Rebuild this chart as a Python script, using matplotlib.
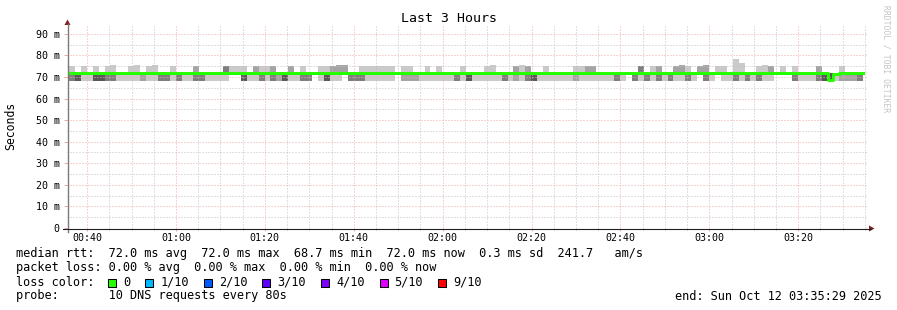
import matplotlib
matplotlib.use("Agg")
import matplotlib.pyplot as plt
import numpy as np
from matplotlib.lines import Line2D
from matplotlib.patches import Polygon, Rectangle
from matplotlib.ticker import MultipleLocator, FuncFormatter
from matplotlib.transforms import IdentityTransform

# -------------------------------
# DATA
# -------------------------------
STEP = 80          # seconds per probe round
PINGS = 10         # pings per round

view_start = 35 * 60 + 29            # 00:35:29
view_end = view_start + 3 * 3600     # 03:35:29
first_round = 35 * 60 + 56           # first round drawn

# pings of each round that landed on the high / low level (rest sit on mid)
n_high = [
    1, 0, 1, 0, 1, 0, 1, 1, 0, 0,   1, 1, 0, 1, 1, 0, 0, 1, 0, 0,
    0, 2, 0, 0, 0, 0, 3, 1, 1, 1,   0, 2, 1, 1, 2, 0, 0, 2, 0, 1,
    0, 0, 1, 1, 2, 2, 2, 0, 0, 1,   1, 1, 1, 1, 1, 0, 1, 1, 0, 0,
    1, 0, 1, 0, 0, 0, 1, 0, 0, 0,   1, 1, 0, 0, 0, 2, 1, 2, 0, 0,
    1, 0, 0, 0, 0, 1, 1, 2, 2, 0,   0, 0, 0, 0, 0, 0, 3, 0, 1, 2,
    0, 0, 2, 2, 1, 0, 2, 2, 0, 1,   1, 0, 1, 1, 0, 0, 1, 1, 2, 0,
    1, 0, 1, 0, 0, 0, 2, 0, 0, 0,   1, 0, 0, 0,
]
n_low = [
    3, 4, 1, 1, 4, 4, 3, 3, 1, 1,   1, 1, 2, 1, 1, 3, 3, 1, 3, 1,
    1, 3, 3, 1, 1, 1, 1, 0, 0, 4,   1, 1, 3, 1, 3, 2, 4, 1, 1, 3,
    3, 0, 1, 4, 1, 1, 0, 3, 3, 3,   1, 1, 1, 1, 1, 0, 2, 2, 2, 1,
    1, 1, 1, 1, 1, 3, 1, 4, 1, 1,   1, 1, 1, 3, 1, 2, 1, 3, 4, 1,
    1, 1, 1, 1, 1, 2, 1, 1, 1, 1,   1, 1, 3, 1, 0, 3, 1, 3, 1, 3,
    1, 3, 1, 1, 3, 1, 0, 3, 1, 0,   1, 1, 3, 1, 3, 1, 3, 1, 1, 0,
    0, 0, 3, 1, 1, 1, 3, 4, 6, 1,   2, 2, 2, 3,
]
high_ms = [
    75.2, 75.2, 75.2, 75.2, 75.2, 75.2, 75.2, 75.7, 75.2, 75.2,
    75.2, 75.7, 75.2, 75.2, 75.7, 75.2, 75.2, 75.2, 75.2, 75.2,
    75.2, 75.2, 75.2, 75.2, 75.2, 75.2, 75.2, 75.2, 75.2, 75.2,
    75.2, 75.2, 75.2, 75.2, 75.2, 75.2, 75.2, 75.2, 75.2, 75.2,
    75.2, 75.2, 75.2, 75.2, 75.2, 75.7, 75.7, 75.2, 75.2, 75.2,
    75.2, 75.2, 75.2, 75.2, 75.2, 75.2, 75.2, 75.2, 75.2, 75.2,
    75.2, 75.2, 75.2, 75.2, 75.2, 75.2, 75.2, 75.2, 75.2, 75.2,
    75.2, 75.7, 75.2, 75.2, 75.2, 75.2, 75.7, 75.2, 75.2, 75.2,
    75.2, 75.2, 75.2, 75.2, 75.2, 75.2, 75.2, 75.2, 75.2, 75.2,
    75.2, 75.2, 75.2, 75.2, 75.2, 75.2, 75.2, 75.2, 75.2, 75.2,
    75.2, 75.2, 75.2, 75.7, 75.2, 75.2, 75.2, 75.7, 75.2, 75.2,
    75.2, 75.2, 78.3, 76.6, 75.2, 75.2, 75.2, 75.7, 75.2, 75.2,
    75.2, 75.2, 75.2, 75.2, 75.2, 75.2, 75.2, 75.2, 75.2, 75.2,
    75.2, 75.2, 75.2, 75.2,
]
mid_ms = [
    72.0, 72.0, 72.0, 72.0, 72.0, 72.0, 72.0, 72.0, 72.0, 72.0,
    72.0, 72.0, 72.0, 72.0, 72.0, 72.0, 72.0, 72.0, 72.0, 72.0,
    72.0, 72.0, 72.0, 72.0, 72.0, 72.0, 72.0, 72.0, 72.0, 72.0,
    72.0, 72.0, 72.0, 72.0, 72.0, 72.0, 72.0, 72.0, 72.0, 72.0,
    72.0, 72.0, 72.0, 72.0, 72.0, 72.0, 72.0, 72.0, 72.0, 72.0,
    72.0, 72.0, 72.0, 72.0, 72.0, 72.0, 72.0, 72.0, 72.0, 72.0,
    72.0, 72.0, 72.0, 72.0, 72.0, 72.0, 72.0, 72.0, 72.0, 72.0,
    72.0, 72.0, 72.0, 72.0, 72.0, 72.0, 72.0, 72.0, 72.0, 72.0,
    72.0, 72.0, 72.0, 72.0, 72.0, 72.0, 72.0, 72.0, 72.0, 72.0,
    72.0, 72.0, 72.0, 72.0, 72.0, 72.0, 72.0, 72.0, 72.0, 72.0,
    72.0, 72.0, 72.0, 72.0, 72.0, 72.0, 72.0, 72.0, 72.0, 72.0,
    72.0, 72.0, 72.0, 72.0, 72.0, 72.0, 72.0, 72.0, 72.0, 72.0,
    72.0, 72.0, 72.0, 72.0, 72.0, 72.0, 72.0, 72.0, 72.0, 71.5,
    72.0, 72.0, 72.0, 72.0,
]
low_ms = [
    67.9, 67.9, 67.9, 67.9, 67.9, 67.9, 67.9, 67.9, 67.9, 67.9,
    67.9, 67.9, 67.9, 67.9, 67.9, 67.9, 67.9, 67.9, 67.9, 67.9,
    67.9, 67.9, 67.9, 67.9, 67.9, 67.9, 67.9, 67.9, 67.9, 67.9,
    67.9, 67.9, 67.9, 67.9, 67.9, 67.9, 67.9, 67.9, 67.9, 67.9,
    67.9, 67.9, 67.9, 67.9, 67.9, 67.9, 67.9, 67.9, 67.9, 67.9,
    67.9, 67.9, 67.9, 67.9, 67.9, 67.9, 67.9, 67.9, 67.9, 67.9,
    67.9, 67.9, 67.9, 67.9, 67.9, 67.9, 67.9, 67.9, 67.9, 67.9,
    67.9, 67.9, 67.9, 67.9, 67.9, 67.9, 67.9, 67.9, 67.9, 67.9,
    67.9, 67.9, 67.9, 67.9, 67.9, 67.9, 67.9, 67.9, 67.9, 67.9,
    67.9, 67.9, 67.9, 67.9, 67.9, 67.9, 67.9, 67.9, 67.9, 67.9,
    67.9, 67.9, 67.9, 67.9, 67.9, 67.9, 67.9, 67.9, 67.9, 67.9,
    67.9, 67.9, 67.9, 67.9, 67.9, 67.9, 67.9, 67.9, 67.9, 67.9,
    67.9, 67.9, 67.9, 67.9, 67.9, 67.9, 67.9, 67.9, 68.7, 67.9,
    67.9, 67.9, 67.9, 67.9,
]

# legend stats
rtt_stats = [72.0, 72.0, 68.7, 72.0]      # avg, max, min, now (ms)
rtt_sd = 0.3
rtt_ams = 241.7
loss_stats = [0.00, 0.00, 0.00, 0.00]    # avg, max, min, now (%)
loss_labels = ["0", "1/10", "2/10", "3/10", "4/10", "5/10", "9/10"]
loss_colors = ["#26ff00", "#00b8ff", "#0059ff", "#5e00ff", "#7e00ff", "#dd00ff", "#ff0000"]
end_text = "end: Sun Oct 12 03:35:29 2025"

# -------------------------------
# STYLE
# -------------------------------
plt.rcParams["font.family"] = "DejaVu Sans Mono"
W, H = 897, 310
GRID = (0.76, 0.76, 0.76)
MGRID = (0.95, 0.66, 0.66)
ARROW = "#7f1f1f"

fig = plt.figure(figsize=(W / 100, H / 100), dpi=100)
fig.patch.set_facecolor("white")
ax = fig.add_axes([67 / W, (H - 228) / H, 800 / W, 202 / H])
ax.set_facecolor("white")
ax.set_xlim(view_start, view_end)
ax.set_ylim(0, 93.6)

# -------------------------------
# SMOKE (smokeping style bands)
# -------------------------------
pings = []
for lo, mi, hi, nl, nh in zip(low_ms, mid_ms, high_ms, n_low, n_high):
    pings.append(sorted([lo] * nl + [mi] * (PINGS - nl - nh) + [hi] * nh))
pings = np.array(pings)
x0 = first_round + STEP * np.arange(len(pings))

half = PINGS // 2
for i in range(half):
    g = int(190 / half * (half - 1 - i)) + 50
    bot = pings[:, i]
    top = pings[:, PINGS - 1 - i]
    ax.bar(x0, top - bot, bottom=bot, width=STEP, align="edge",
           color="#%02x%02x%02x" % (g, g, g), linewidth=0,
           antialiased=False, zorder=1)

median = np.median(pings, axis=1)
edges = np.append(x0, x0[-1] + STEP)
ax.step(edges, np.append(median, median[-1]), where="post",
        color="#26ff00", lw=2.16, zorder=3)

# -------------------------------
# GRID / AXES
# -------------------------------
ax.xaxis.set_major_locator(MultipleLocator(1200))
ax.xaxis.set_minor_locator(MultipleLocator(300))
ax.yaxis.set_major_locator(MultipleLocator(10))
ax.yaxis.set_minor_locator(MultipleLocator(5))
ax.xaxis.set_major_formatter(FuncFormatter(
    lambda v, p: "%02d:%02d" % (int(v) // 3600, (int(v) % 3600) // 60)))
ax.yaxis.set_major_formatter(FuncFormatter(
    lambda v, p: "0" if v == 0 else "%d m" % v))

ax.set_axisbelow(False)
ax.grid(which="major", color=MGRID, lw=0.72, linestyle=(0, (1, 2)))
ax.grid(which="minor", color=GRID, lw=0.72, linestyle=(0, (1, 2)))

ax.tick_params(axis="x", which="major", length=2.2, width=0.72, color=MGRID,
               labelsize=7.2, pad=1.5)
ax.tick_params(axis="x", which="minor", length=1.5, width=0.72, color=GRID)
ax.tick_params(axis="y", which="major", length=2.2, width=0.72, color=MGRID,
               labelsize=7.2, pad=3.0)
ax.tick_params(axis="y", which="minor", length=0)
for s in ax.spines.values():
    s.set_visible(False)

idt = IdentityTransform()
fig.add_artist(Line2D([67.5, 67.5], [H - 232, H - 24], transform=idt,
                      color="#7a7a7a", lw=1.0))
fig.add_artist(Line2D([63, 871], [H - 228.5, H - 228.5], transform=idt,
                      color="#1f1f1f", lw=0.8))
fig.add_artist(Polygon([(64.5, H - 25), (70.5, H - 25), (67.5, H - 19.5)],
                       closed=True, transform=idt, color=ARROW, lw=0))
fig.add_artist(Polygon([(869, H - 225.5), (869, H - 231.5), (874.5, H - 228.5)],
                       closed=True, transform=idt, color=ARROW, lw=0))

# -------------------------------
# TEXT
# -------------------------------
fig.text(0.5, 1 - 19 / H, "Last 3 Hours", ha="center", va="center", size=9.5)
fig.text(11 / W, 1 - 126 / H, "Seconds", rotation=90, ha="center",
         va="center", size=8.3)
fig.text(886 / W, 1 - 59 / H, "RRDTOOL / TOBI OETIKER", rotation=270,
         ha="center", va="center", size=5.8, color="#c4c4c4")

LS = 8.55
CW = 7.15
rows_y = [254, 268, 282, 296]

line1 = ("median rtt:  %.1f ms avg  %.1f ms max  %.1f ms min  %.1f ms now"
         "  %.1f ms sd  %.1f   am/s" % (*rtt_stats, rtt_sd, rtt_ams))
line2 = ("packet loss: %.2f %% avg  %.2f %% max  %.2f %% min  %.2f %% now"
         % tuple(loss_stats))
fig.text(16 / W, 1 - rows_y[0] / H, line1, va="center", size=LS)
fig.text(16 / W, 1 - rows_y[1] / H, line2, va="center", size=LS)
fig.text(16 / W, 1 - rows_y[2] / H, "loss color:", va="center", size=LS)

bx = 108.0
for lab, col in zip(loss_labels, loss_colors):
    yc = H - rows_y[2]
    fig.add_artist(Rectangle((bx, yc - 4.5), 8, 8, transform=idt,
                             facecolor=col, edgecolor="black", lw=0.75))
    tx = bx + 15
    fig.text(tx / W, 1 - rows_y[2] / H, lab, va="center", size=LS)
    bx = tx + CW * len(lab) + 15

fig.text(16 / W, 1 - rows_y[3] / H, "probe:       10 DNS requests every 80s",
         va="center", size=LS)
fig.text(882 / W, 1 - rows_y[3] / H, end_text, ha="right", va="center", size=LS)

fig.savefig("out.png", dpi=100, facecolor="white")
